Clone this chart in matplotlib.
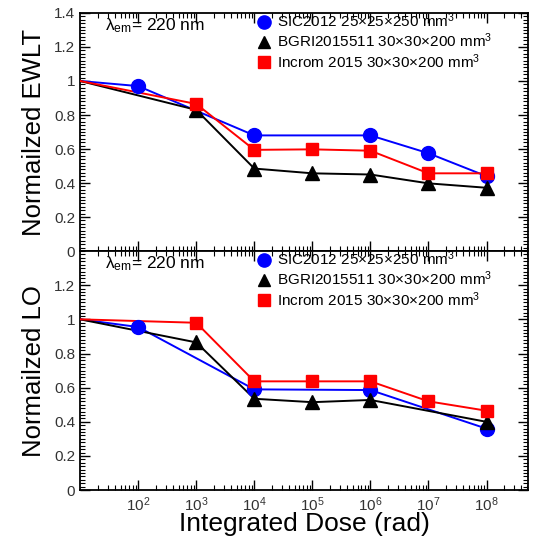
import matplotlib
matplotlib.use("Agg")
import matplotlib.pyplot as plt
from matplotlib.ticker import LogLocator, MultipleLocator, FuncFormatter, NullFormatter
from matplotlib.lines import Line2D

plt.rcParams['font.family'] = ['Liberation Sans', 'DejaVu Sans']
plt.rcParams['mathtext.fontset'] = 'custom'
plt.rcParams['mathtext.rm'] = 'Liberation Sans'
plt.rcParams['mathtext.it'] = 'Liberation Sans:italic'

# ---- data ----
labels = ["SIC2012 25×25×250 mm$^3$",
          "BGRI2015511 30×30×200 mm$^3$",
          "Incrom 2015 30×30×200 mm$^3$"]

# top: Normalized EWLT
ewlt_sic_x = [10, 1e2, 1e4, 1e6, 1e7, 1e8]
ewlt_sic_y = [1.0, 0.97, 0.68, 0.68, 0.575, 0.44]
ewlt_bgri_x = [10, 1e3, 1e4, 1e5, 1e6, 1e7, 1e8]
ewlt_bgri_y = [1.0, 0.83, 0.485, 0.457, 0.45, 0.398, 0.372]
ewlt_inc_x = [10, 1e3, 1e4, 1e5, 1e6, 1e7, 1e8]
ewlt_inc_y = [1.0, 0.865, 0.595, 0.598, 0.59, 0.457, 0.457]

# bottom: Normalized LO
lo_sic_x = [10, 1e2, 1e4, 1e6, 1e8]
lo_sic_y = [1.0, 0.955, 0.59, 0.586, 0.36]
lo_bgri_x = [10, 1e3, 1e4, 1e5, 1e6, 1e8]
lo_bgri_y = [1.0, 0.865, 0.535, 0.515, 0.528, 0.40]
lo_inc_x = [10, 1e3, 1e4, 1e5, 1e6, 1e7, 1e8]
lo_inc_y = [1.0, 0.98, 0.637, 0.637, 0.637, 0.52, 0.465]

xticks = [1e2, 1e3, 1e4, 1e5, 1e6, 1e7, 1e8]

fig = plt.figure(figsize=(5.38, 5.41), dpi=100)
ax1 = fig.add_axes([0.149, 0.536, 0.833, 0.440])
ax2 = fig.add_axes([0.149, 0.094, 0.833, 0.442])

styles = [dict(color='blue', marker='o', ms=10),
          dict(color='black', marker='^', ms=9.5),
          dict(color='red', marker='s', ms=9)]

def fmt(v, pos):
    s = ('%.1f' % v)
    if s.endswith('.0'):
        s = s[:-2]
    return s

for ax, data, ylab in [
        (ax1, [(ewlt_sic_x, ewlt_sic_y), (ewlt_bgri_x, ewlt_bgri_y), (ewlt_inc_x, ewlt_inc_y)], "Normailzed EWLT"),
        (ax2, [(lo_sic_x, lo_sic_y), (lo_bgri_x, lo_bgri_y), (lo_inc_x, lo_inc_y)], "Normailzed LO")]:
    order = [1, 0, 2]
    for i in order:
        x, y = data[i]
        st = styles[i]
        ax.plot(x, y, color=st['color'], lw=1.4, zorder=2 + i)
        ax.plot(x[1:], y[1:], linestyle='none', marker=st['marker'], ms=st['ms'],
                color=st['color'], mec=st['color'], zorder=5 + i)
    ax.set_xscale('log')
    ax.set_xlim(10, 10 ** 8.72)
    ax.set_ylim(0, 1.4)
    ax.set_xticks(xticks)
    ax.xaxis.set_minor_locator(LogLocator(base=10, subs=range(2, 10), numticks=20))
    ax.xaxis.set_minor_formatter(NullFormatter())
    ax.yaxis.set_major_locator(MultipleLocator(0.2))
    ax.yaxis.set_minor_locator(MultipleLocator(0.02))
    ax.yaxis.set_major_formatter(FuncFormatter(fmt))
    ax.tick_params(which='both', direction='in', top=True, right=True)
    ax.tick_params(which='major', length=7, width=1, labelsize=11, labelcolor='#333333')
    ax.tick_params(which='minor', length=3.5, width=0.8)
    for sp in ax.spines.values():
        sp.set_linewidth(1.3)
    ax.set_ylabel(ylab, fontsize=18.5, labelpad=6)
    ax.text(0.055, 0.985, "λ$_{\\rm em}$= 220 nm", transform=ax.transAxes,
            fontsize=12.5, va='top', ha='left')
    handles = [Line2D([], [], linestyle='none', marker=styles[i]['marker'],
                      color=styles[i]['color'], ms=styles[i]['ms'] * 0.95)
               for i in range(3)]
    ax.legend(handles, labels, loc='upper left', bbox_to_anchor=(0.39, 1.02),
              frameon=False, fontsize=11, handlelength=0.8, handletextpad=0.45,
              labelspacing=0.12, borderaxespad=0, borderpad=0.2)

ax1.tick_params(axis='x', labelbottom=False)
ax2.set_yticks([0, 0.2, 0.4, 0.6, 0.8, 1.0, 1.2])
ax2.set_xlabel("Integrated Dose (rad)", fontsize=19, labelpad=-1)

fig.savefig("out.png", dpi=100)
